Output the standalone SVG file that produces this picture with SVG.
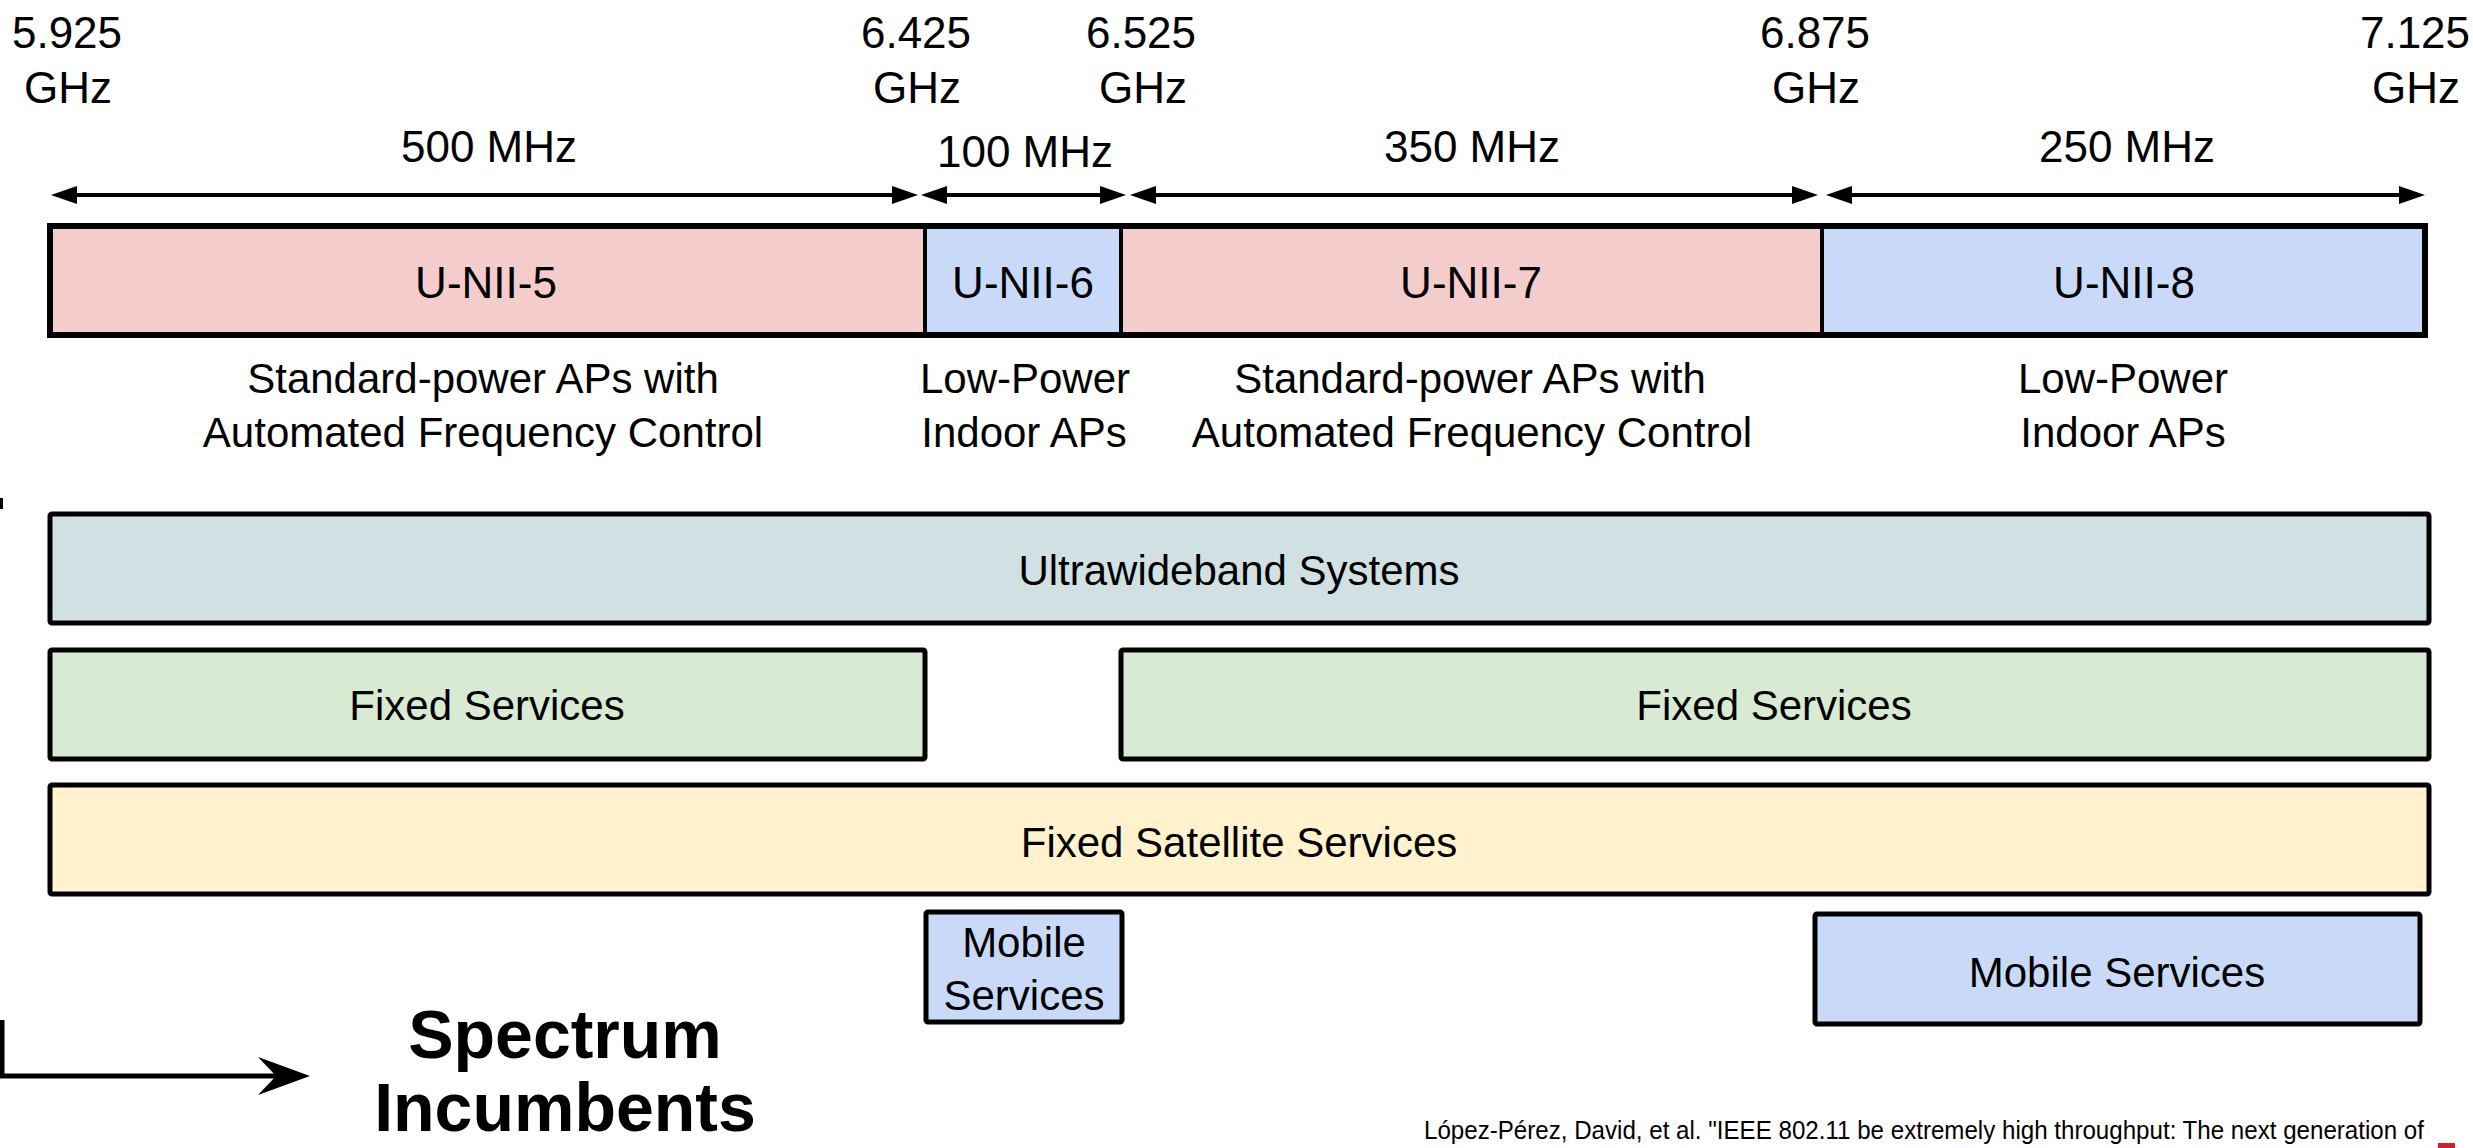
<svg xmlns="http://www.w3.org/2000/svg" width="2473" height="1148" viewBox="0 0 2473 1148">
<style>
text{font-family:"Liberation Sans",Arial,sans-serif;fill:#000;text-anchor:middle}
.t{font-size:44px}
.l{font-size:42px}
.b{stroke:#000;stroke-width:5}
.dv{stroke:#000;stroke-width:4}
.dim{stroke:#000;stroke-width:4;fill:none;marker-start:url(#ah);marker-end:url(#ah)}
.pink{fill:#F4CCCC}.blue{fill:#C9DAF8}.uwb{fill:#D0E0E3}.green{fill:#D9EAD3}.yel{fill:#FFF2CC}
.big{font-size:68px;font-weight:bold}
</style>
<defs>
<marker id="ah" viewBox="0 0 26 20" refX="16" refY="10" markerWidth="26" markerHeight="20" markerUnits="userSpaceOnUse" orient="auto-start-reverse">
<path d="M0,1 L26,10 L0,19 z" fill="#000"/>
</marker>
</defs>
<rect width="2473" height="1148" fill="#fff"/>

<g id="freq-labels">
<text class="t" x="67" y="48">5.925</text><text class="t" x="68" y="103">GHz</text>
<text class="t" x="916" y="48">6.425</text><text class="t" x="917" y="103">GHz</text>
<text class="t" x="1141" y="48">6.525</text><text class="t" x="1143" y="103">GHz</text>
<text class="t" x="1815" y="48">6.875</text><text class="t" x="1816" y="103">GHz</text>
<text class="t" x="2415" y="48">7.125</text><text class="t" x="2416" y="103">GHz</text>
</g>
<g id="bw-labels">
<text class="t" x="489" y="162">500 MHz</text>
<text class="t" x="1025" y="167">100 MHz</text>
<text class="t" x="1472" y="162">350 MHz</text>
<text class="t" x="2127" y="162">250 MHz</text>
</g>

<g id="connectors">
<line class="dim" x1="61" y1="195" x2="908" y2="195"/>
<line class="dim" x1="931" y1="195" x2="1116" y2="195"/>
<line class="dim" x1="1140" y1="195" x2="1808" y2="195"/>
<line class="dim" x1="1836" y1="195" x2="2415" y2="195"/>
<path d="M2,1020 V1076 H280" fill="none" stroke="#000" stroke-width="5"/>
<path d="M310,1076 L258,1057 L276,1076 L258,1095 z" fill="#000"/>
</g>

<g id="unii-5"><rect class="pink" x="50" y="226" width="875" height="109"/><text class="t" x="486" y="298">U-NII-5</text></g>
<g id="unii-6"><rect class="blue" x="925" y="226" width="196" height="109"/><text class="t" x="1023" y="298">U-NII-6</text></g>
<g id="unii-7"><rect class="pink" x="1121" y="226" width="701" height="109"/><text class="t" x="1471" y="298">U-NII-7</text></g>
<g id="unii-8"><rect class="blue" x="1822" y="226" width="603" height="109"/><text class="t" x="2124" y="298">U-NII-8</text></g>
<g id="band-frame">
<rect x="50" y="226" width="2375" height="109" fill="none" stroke="#000" stroke-width="6"/>
<line class="dv" x1="925" y1="226" x2="925" y2="335"/>
<line class="dv" x1="1121" y1="226" x2="1121" y2="335"/>
<line class="dv" x1="1822" y1="226" x2="1822" y2="335"/>
</g>

<g id="desc-5"><text class="l" x="483" y="393">Standard-power APs with</text><text class="l" x="483" y="447">Automated Frequency Control</text></g>
<g id="desc-6"><text class="l" x="1025" y="393">Low-Power</text><text class="l" x="1024" y="447">Indoor APs</text></g>
<g id="desc-7"><text class="l" x="1470" y="393">Standard-power APs with</text><text class="l" x="1472" y="447">Automated Frequency Control</text></g>
<g id="desc-8"><text class="l" x="2123" y="393">Low-Power</text><text class="l" x="2123" y="447">Indoor APs</text></g>

<g id="uwb"><rect class="uwb b" x="50" y="514" width="2379" height="109" rx="2"/><text class="l" x="1239" y="585">Ultrawideband Systems</text></g>
<g id="fixed-1"><rect class="green b" x="50" y="650" width="875" height="109" rx="2"/><text class="l" x="487" y="720">Fixed Services</text></g>
<g id="fixed-2"><rect class="green b" x="1121" y="650" width="1308" height="109" rx="2"/><text class="l" x="1774" y="720">Fixed Services</text></g>
<g id="fss"><rect class="yel b" x="50" y="785" width="2379" height="109" rx="2"/><text class="l" x="1239" y="857">Fixed Satellite Services</text></g>
<g id="mobile-1"><rect class="blue b" x="926" y="912" width="196" height="110" rx="2"/><text class="l" x="1024" y="957">Mobile</text><text class="l" x="1024" y="1010">Services</text></g>
<g id="mobile-2"><rect class="blue b" x="1815" y="914" width="605" height="110" rx="2"/><text class="l" x="2117" y="987">Mobile Services</text></g>

<g id="incumbents-label">
<text class="big" x="565" y="1058">Spectrum</text>
<text class="big" x="565" y="1131">Incumbents</text>
</g>

<g id="citation">
<text x="1424" y="1139" style="font-size:25px;text-anchor:start" textLength="1000" lengthAdjust="spacingAndGlyphs">López-Pérez, David, et al. "IEEE 802.11 be extremely high throughput: The next generation of</text>
</g>
<rect x="0" y="498" width="3" height="11" fill="#000"/>
<rect x="2438" y="1143" width="17" height="5" fill="#D0202E"/>
</svg>
